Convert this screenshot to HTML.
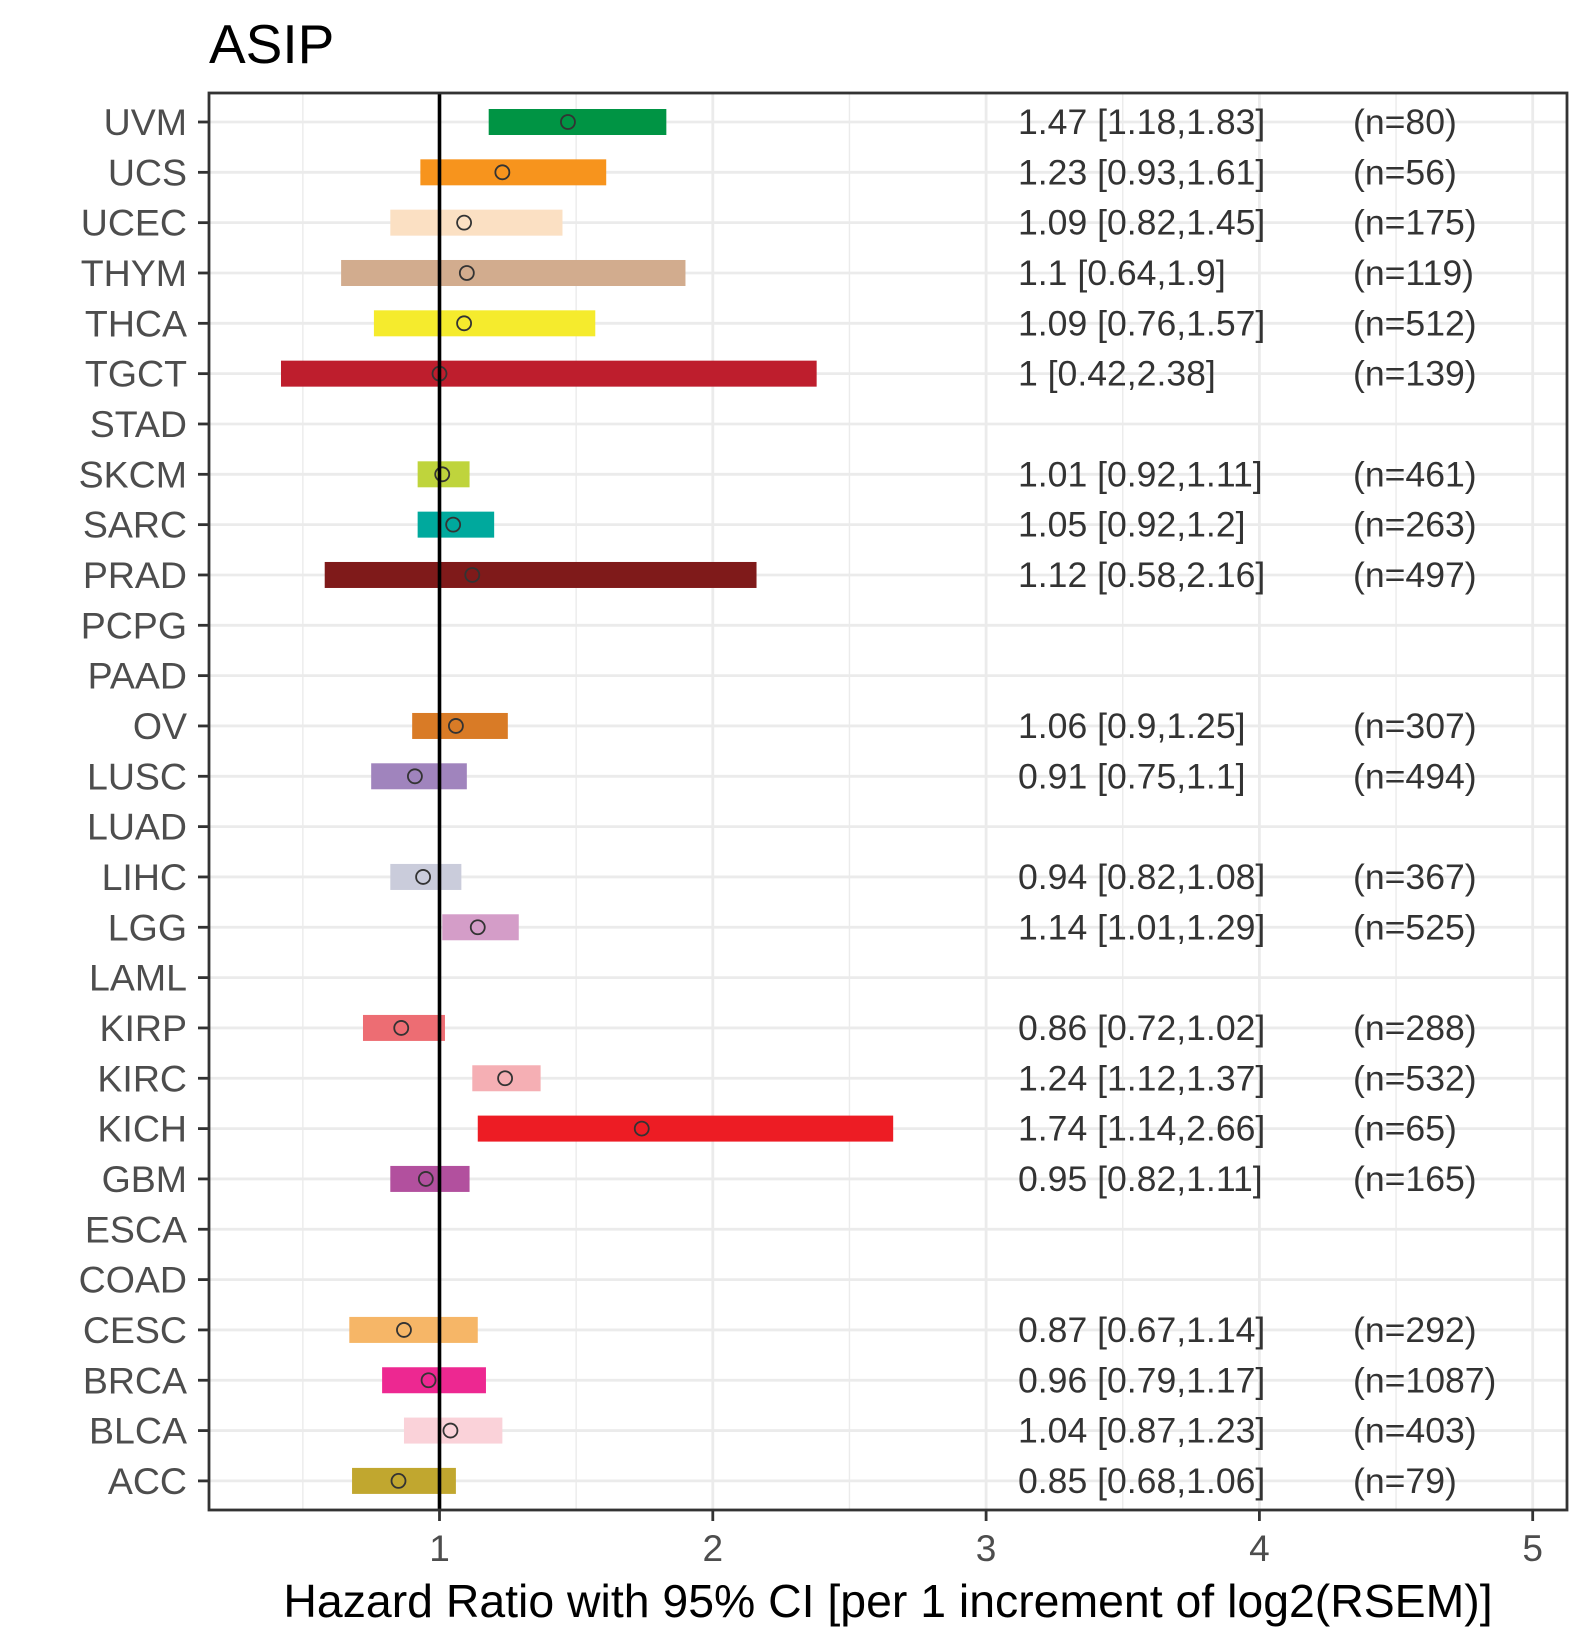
<!DOCTYPE html>
<html><head><meta charset="utf-8"><style>
html,body{margin:0;padding:0;background:#fff;}
svg{display:block;font-family:"Liberation Sans",Arial,sans-serif;}
</style></head><body>
<svg id="chart" width="1590" height="1650" viewBox="0 0 1590 1650" xmlns="http://www.w3.org/2000/svg">
<rect x="0" y="0" width="1590" height="1650" fill="#fff"/>
<text x="209" y="63" font-size="55" fill="#000">ASIP</text>
<g id="grid"></g><g id="bars"></g><g id="labels"></g>
<text x="888" y="1617" font-size="46.4" fill="#000" text-anchor="middle">Hazard Ratio with 95% CI [per 1 increment of log2(RSEM)]</text>
</svg>
<script>
const cancers = ["UVM","UCS","UCEC","THYM","THCA","TGCT","STAD","SKCM","SARC","PRAD","PCPG","PAAD","OV","LUSC","LUAD","LIHC","LGG","LAML","KIRP","KIRC","KICH","GBM","ESCA","COAD","CESC","BRCA","BLCA","ACC"];
const hr   = [1.47,1.23,1.09,1.1,1.09,1,null,1.01,1.05,1.12,null,null,1.06,0.91,null,0.94,1.14,null,0.86,1.24,1.74,0.95,null,null,0.87,0.96,1.04,0.85];
const low  = [1.18,0.93,0.82,0.64,0.76,0.42,null,0.92,0.92,0.58,null,null,0.9,0.75,null,0.82,1.01,null,0.72,1.12,1.14,0.82,null,null,0.67,0.79,0.87,0.68];
const high = [1.83,1.61,1.45,1.9,1.57,2.38,null,1.11,1.2,2.16,null,null,1.25,1.1,null,1.08,1.29,null,1.02,1.37,2.66,1.11,null,null,1.14,1.17,1.23,1.06];
const nums = [80,56,175,119,512,139,null,461,263,497,null,null,307,494,null,367,525,null,288,532,65,165,null,null,292,1087,403,79];
const hrText = ["1.47 [1.18,1.83]","1.23 [0.93,1.61]","1.09 [0.82,1.45]","1.1 [0.64,1.9]","1.09 [0.76,1.57]","1 [0.42,2.38]","","1.01 [0.92,1.11]","1.05 [0.92,1.2]","1.12 [0.58,2.16]","","","1.06 [0.9,1.25]","0.91 [0.75,1.1]","","0.94 [0.82,1.08]","1.14 [1.01,1.29]","","0.86 [0.72,1.02]","1.24 [1.12,1.37]","1.74 [1.14,2.66]","0.95 [0.82,1.11]","","","0.87 [0.67,1.14]","0.96 [0.79,1.17]","1.04 [0.87,1.23]","0.85 [0.68,1.06]"];
const colors = ["#009444","#F7941D","#FBE0C3","#D2AC8E","#F5EB2D","#BE1E2D","#999","#BFD43C","#00A99D","#7F1A1A","#999","#999","#D97B26","#A084BD","#999","#CACCDB","#D49DC8","#999","#ED6D73","#F5AFB4","#ED1C24","#B2509E","#999","#999","#F6B667","#ED2891","#FAD2D9","#C1A72F"];
const xTicks = [1,2,3,4,5];
const xMinor = [0.5,1.5,2.5,3.5,4.5];

const L=209,R=1567,T=93,B=1510;
const X0=439.5, U=273.3;
function xs(v){return X0+(v-1)*U;}
function ys(i){return 122+i*50.33;}
const NS="http://www.w3.org/2000/svg";
function mk(tag,attrs,parent){const e=document.createElementNS(NS,tag);for(const k in attrs)e.setAttribute(k,attrs[k]);parent.appendChild(e);return e;}
const grid=document.getElementById('grid'),bars=document.getElementById('bars'),labels=document.getElementById('labels');

xMinor.forEach(v=>{const e=mk('line',{x1:xs(v),x2:xs(v),y1:T,y2:B,stroke:'#ebebeb','stroke-width':1.4},grid);

});
xTicks.forEach(v=>{const e=mk('line',{x1:xs(v),x2:xs(v),y1:T,y2:B,stroke:'#ebebeb','stroke-width':2.8},grid);


const t=mk('line',{x1:xs(v),x2:xs(v),y1:B,y2:B+11,stroke:'#333','stroke-width':2.8},labels);


const tx=mk('text',{x:xs(v),y:1561,'font-size':37,fill:'#4d4d4d','text-anchor':'middle'},labels);tx.textContent=v;

});
cancers.forEach((c,i)=>{const y=ys(i);
const g=mk('line',{x1:L,x2:R,y1:y,y2:y,stroke:'#ebebeb','stroke-width':2.8},grid);


const t=mk('line',{x1:L-11,x2:L,y1:y,y2:y,stroke:'#333','stroke-width':2.8},labels);


const lb=mk('text',{x:L-22,y:y+13,'font-size':37.5,fill:'#4d4d4d','text-anchor':'end'},labels);lb.textContent=c;


if(hr[i]!==null){
 const b=mk('rect',{x:xs(low[i]),y:y-13,width:xs(high[i])-xs(low[i]),height:26,fill:colors[i]},bars);
 
 
 const p=mk('circle',{cx:xs(hr[i]),cy:y,r:7,fill:'none',stroke:'#333','stroke-width':1.8},bars);
 
 
 const ht=mk('text',{x:1018,y:y+12,'font-size':35.6,fill:'#333'},labels);ht.textContent=hrText[i];
 
 
 const nt=mk('text',{x:1353,y:y+12,'font-size':35.6,fill:'#333'},labels);nt.textContent='(n='+nums[i]+')';
 
 
}});
const vl=mk('line',{x1:xs(1),x2:xs(1),y1:T,y2:B,stroke:'#000','stroke-width':3.6},bars);


const fr=mk('rect',{x:L,y:T,width:R-L,height:B-T,fill:'none',stroke:'#333','stroke-width':2.8},labels);


</script>
</body></html>
